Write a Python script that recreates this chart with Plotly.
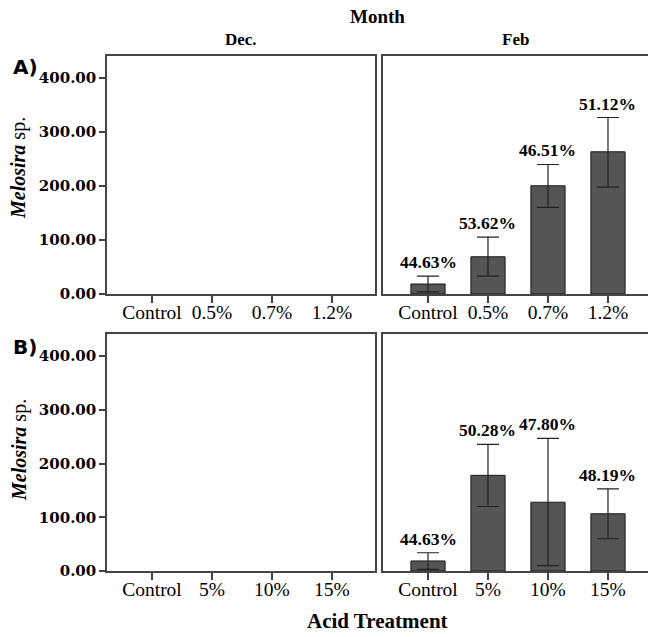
import plotly.graph_objects as go

# ---- data ----
months = ["Dec.", "Feb"]
cats_A = ["Control", "0.5%", "0.7%", "1.2%"]
cats_B = ["Control", "5%", "10%", "15%"]

feb_A_mean = [18.5, 69, 200.5, 263.5]
feb_A_upper = [33, 105.5, 240, 327]
feb_A_lower = [4, 33, 160.5, 198]
feb_A_pct = ["44.63%", "53.62%", "46.51%", "51.12%"]

feb_B_mean = [18.7, 178, 128, 106.5]
feb_B_upper = [34, 235.5, 246.7, 153]
feb_B_lower = [3, 120, 10, 60]
feb_B_pct = ["44.63%", "50.28%", "47.80%", "48.19%"]

y_ticks = [0, 100, 200, 300, 400]

W, H = 648, 637
def px(x): return x / W
def py(y): return 1 - y / H

LINE = "#444444"
SERIF = "Liberation Serif"

fig = go.Figure()

xdom_left = [px(107), px(375)]
xdom_right = [px(383), 1.0]
ydom_top = [py(294), py(56)]
ydom_bot = [py(571), py(334)]
yrange = [0, 441]

panels = [
    ("x", "y", xdom_left, ydom_top, cats_A, None),
    ("x2", "y2", xdom_right, ydom_top, cats_A, (feb_A_mean, feb_A_upper, feb_A_lower, feb_A_pct)),
    ("x3", "y3", xdom_left, ydom_bot, cats_B, None),
    ("x4", "y4", xdom_right, ydom_bot, cats_B, (feb_B_mean, feb_B_upper, feb_B_lower, feb_B_pct)),
]

annotations = []
for i, (xa, ya, xd, yd, cats, data) in enumerate(panels):
    left = xd is xdom_left
    xrng = [-0.75, 3.717] if left else [-0.75, 3.667]
    xkey = "xaxis" if xa == "x" else "xaxis" + xa[1:]
    ykey = "yaxis" if ya == "y" else "yaxis" + ya[1:]
    fig.update_layout(**{
        xkey: dict(domain=xd, anchor=ya, range=xrng, tickvals=list(range(len(cats))),
                   ticktext=cats, showline=True, mirror=True, linecolor=LINE, linewidth=1.5,
                   ticks="outside", ticklen=7, tickcolor=LINE, tickwidth=1.5,
                   ticklabelstandoff=-7,
                   showgrid=False, zeroline=False, fixedrange=True, automargin=False,
                   tickfont=dict(family=SERIF, size=19.5, color="black")),
        ykey: dict(domain=yd, anchor=xa, range=yrange, tickvals=y_ticks,
                   tickformat=".2f", showline=True, mirror=left, linecolor=LINE, linewidth=1.5,
                   ticks="outside" if left else "", ticklen=6, tickcolor=LINE, tickwidth=1.5,
                   showticklabels=left, showgrid=False, zeroline=False, automargin=False,
                   tickfont=dict(family="DejaVu Serif", size=15, color="black", weight="bold")),
    })
    if data is not None:
        mean, up, lo, pct = data
        fig.add_trace(go.Bar(
            x=list(range(len(cats))), y=mean, xaxis=xa, yaxis=ya, width=0.57,
            marker=dict(color="#555555", line=dict(color="#1a1a1a", width=1)),
            error_y=dict(type="data", symmetric=False,
                         array=[u - m for u, m in zip(up, mean)],
                         arrayminus=[m - l for m, l in zip(mean, lo)],
                         color="#222222", thickness=1.2, width=11),
            showlegend=False, hoverinfo="skip"))
        for j, (u, t) in enumerate(zip(up, pct)):
            annotations.append(dict(x=j, y=u, xref=xa, yref=ya, text=t, showarrow=False,
                                    xanchor="center", yanchor="bottom", yshift=2,
                                    font=dict(family=SERIF, size=17.5, color="black", weight="bold")))
    else:
        fig.add_trace(go.Bar(x=[], y=[], xaxis=xa, yaxis=ya, showlegend=False))

def lab(x, y, text, font, angle=0):
    return dict(x=px(x), y=py(y), xref="paper", yref="paper", text=text, showarrow=False,
                xanchor="center", yanchor="middle", textangle=angle, font=font)

bold = lambda s: dict(family=SERIF, size=s, color="black", weight="bold")
ytitle = "<b><i>Melosira</i></b> sp."
annotations += [
    lab(377, 17, "Month", bold(19)),
    lab(241, 40, months[0], bold(17)),
    lab(515, 40, months[1], bold(17)),
    lab(377, 621, "Acid Treatment", bold(21)),
    lab(25, 67, "A)", dict(family="DejaVu Sans", size=20, color="black", weight="bold")),
    lab(25, 347, "B)", dict(family="DejaVu Sans", size=20, color="black", weight="bold")),
    lab(19, 168, ytitle, dict(family=SERIF, size=20, color="black"), -90),
    lab(19, 450, ytitle, dict(family=SERIF, size=20, color="black"), -90),
]

fig.update_layout(width=W, height=H, margin=dict(l=0, r=0, t=0, b=0),
                  paper_bgcolor="white", plot_bgcolor="white",
                  annotations=annotations, bargap=0.4)

fig.write_html("out.html")
